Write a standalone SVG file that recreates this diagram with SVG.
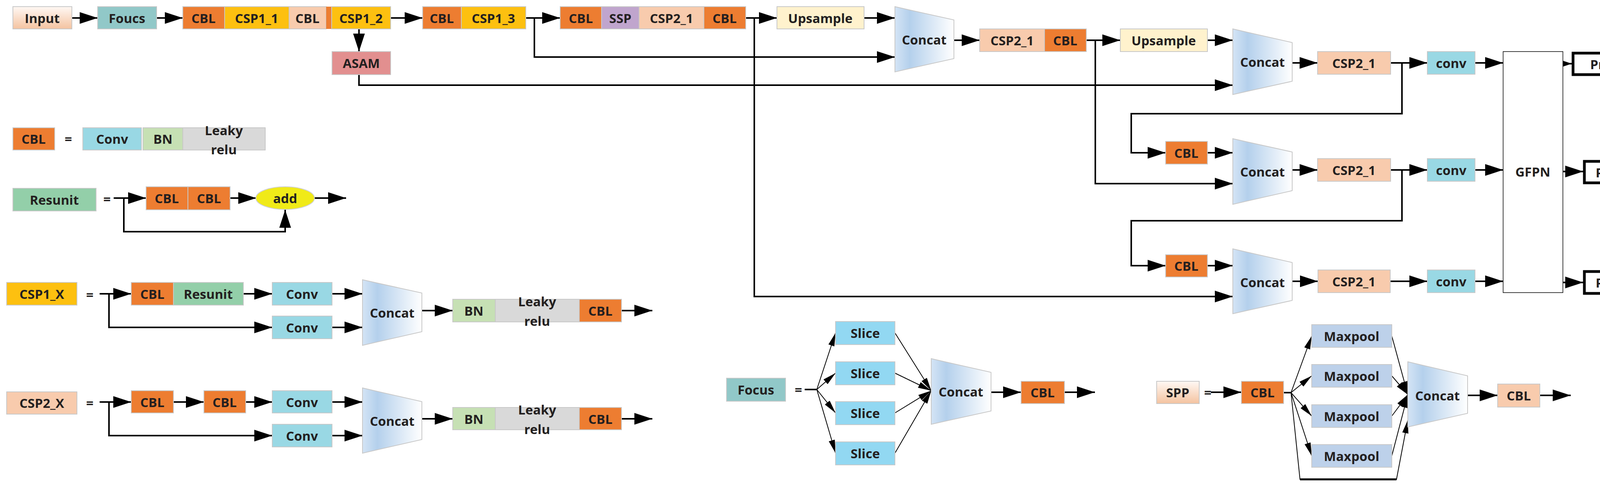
<svg xmlns="http://www.w3.org/2000/svg" width="4270" height="1244" viewBox="0 0 4270 1244">
<defs>
<marker id="ah" markerUnits="userSpaceOnUse" markerWidth="46" markerHeight="30" refX="46" refY="15" orient="auto"><path d="M0,0 L46,15 L0,30 z" fill="#000"/></marker>
<marker id="as" markerUnits="userSpaceOnUse" markerWidth="34" markerHeight="16" refX="34" refY="8" orient="auto"><path d="M0,0 L34,8 L0,16 z" fill="#000"/></marker>
<linearGradient id="cg" x1="0" y1="0" x2="1" y2="0"><stop offset="0" stop-color="#d4e4f5"/><stop offset="0.25" stop-color="#b4d0ec"/><stop offset="1" stop-color="#ffffff"/></linearGradient>
<linearGradient id="pg" x1="0" y1="0" x2="0" y2="1"><stop offset="0" stop-color="#fff8f4"/><stop offset="1" stop-color="#f4c3a0"/></linearGradient>
<style>
.b{stroke:#c8c8c8;stroke-width:2}
.t{font-family:"Open Sans","Liberation Sans",sans-serif;font-weight:bold;font-size:33px;fill:#231f20;text-anchor:middle;dominant-baseline:central}
.ln{fill:none;stroke:#000;stroke-width:4}
.th{fill:none;stroke:#000;stroke-width:2}
.or{fill:#ed7d31}.ye{fill:#fdc010}.pe{fill:#f8cbad}.te{fill:#91c8c8}.cy{fill:#99d8e4}.bn{fill:#c6e0b4}.gr{fill:#d9d9d9}.rs{fill:#93cfa9}.up{fill:#fff2cd}.sl{fill:#92d8f2}.mp{fill:#bdd1ea}
.cc{fill:url(#cg);stroke:#c8c8c8;stroke-width:2}
</style>
</defs>

<g id="connectors">
<path class="ln" marker-end="url(#ah)" d="M184,46 H250"/>
<path class="ln" marker-end="url(#ah)" d="M401,46 H468"/>
<path class="ln" marker-end="url(#ah)" d="M1000,46 H1082"/>
<path class="ln" marker-end="url(#ah)" d="M919,74 V132"/>
<path class="ln" marker-end="url(#ah)" d="M1346,46 H1434"/>
<path class="ln" marker-end="url(#ah)" d="M1368,46 V146 H2291"/>
<path class="ln" marker-end="url(#ah)" d="M1909,46 H1989"/>
<path class="ln" marker-end="url(#ah)" d="M1931,46 V759 H3156"/>
<path class="ln" marker-end="url(#ah)" d="M2212,46 H2291"/>
<path class="ln" marker-end="url(#ah)" d="M2442,103 H2508"/>
<path class="ln" marker-end="url(#ah)" d="M2781,103 H2868"/>
<path class="ln" marker-end="url(#ah)" d="M3091,103 H3156"/>
<path class="ln" marker-end="url(#ah)" d="M2804,103 V470 H3156"/>
<path class="ln" marker-end="url(#ah)" d="M919,191 V218 H3156"/>
<path class="ln" marker-end="url(#ah)" d="M3308,161 H3373"/>
<path class="ln" marker-end="url(#ah)" d="M3560,161 H3654"/>
<path class="ln" marker-end="url(#ah)" d="M3776,161 H3848"/>
<path class="ln" marker-end="url(#ah)" d="M3589,161 V291 H2896 V391 H2984"/>
<path class="ln" marker-end="url(#ah)" d="M3091,391 H3156"/>
<path class="ln" marker-end="url(#ah)" d="M3308,435 H3373"/>
<path class="ln" marker-end="url(#ah)" d="M3560,435 H3654"/>
<path class="ln" marker-end="url(#ah)" d="M3776,435 H3848"/>
<path class="ln" marker-end="url(#ah)" d="M3589,435 V565 H2896 V680 H2984"/>
<path class="ln" marker-end="url(#ah)" d="M3091,680 H3156"/>
<path class="ln" marker-end="url(#ah)" d="M3308,720 H3374"/>
<path class="ln" marker-end="url(#ah)" d="M3559,720 H3654"/>
<path class="ln" marker-end="url(#ah)" d="M3776,720 H3848"/>
<path class="ln" marker-end="url(#ah)" d="M4001,163 H4024"/>
<path class="ln" marker-end="url(#ah)" d="M4001,439 H4053"/>
<path class="ln" marker-end="url(#ah)" d="M4001,723 H4053"/>
<!-- Resunit -->
<path class="ln" marker-end="url(#ah)" d="M291,507 H374"/>
<path class="ln" marker-end="url(#ah)" d="M589,507 H656"/>
<path class="ln" marker-end="url(#ah)" d="M805,507 H886"/>
<path class="ln" marker-end="url(#ah)" d="M317,507 V593 H730 V537"/>
<!-- CSP1_X -->
<path class="ln" marker-end="url(#ah)" d="M255,752 H336"/>
<path class="ln" marker-end="url(#ah)" d="M623,752 H697"/>
<path class="ln" marker-end="url(#ah)" d="M850,752 H928"/>
<path class="ln" marker-end="url(#ah)" d="M279,752 V838 H697"/>
<path class="ln" marker-end="url(#ah)" d="M850,838 H928"/>
<path class="ln" marker-end="url(#ah)" d="M1080,795 H1159"/>
<path class="ln" marker-end="url(#ah)" d="M1591,795 H1670"/>
<!-- CSP2_X -->
<path class="ln" marker-end="url(#ah)" d="M255,1029 H336"/>
<path class="ln" marker-end="url(#ah)" d="M444,1029 H522"/>
<path class="ln" marker-end="url(#ah)" d="M629,1029 H697"/>
<path class="ln" marker-end="url(#ah)" d="M850,1029 H928"/>
<path class="ln" marker-end="url(#ah)" d="M279,1029 V1115 H697"/>
<path class="ln" marker-end="url(#ah)" d="M850,1115 H928"/>
<path class="ln" marker-end="url(#ah)" d="M1080,1072 H1159"/>
<path class="ln" marker-end="url(#ah)" d="M1591,1072 H1670"/>
<!-- Focus -->
<path class="ln" d="M2060,997 H2091"/>
<path class="th" marker-end="url(#as)" d="M2091,997 L2139,852"/>
<path class="th" marker-end="url(#as)" d="M2091,997 L2139,955"/>
<path class="th" marker-end="url(#as)" d="M2091,997 L2139,1057"/>
<path class="th" marker-end="url(#as)" d="M2091,997 L2139,1160"/>
<path class="th" marker-end="url(#as)" d="M2291,852 L2384,1000"/>
<path class="th" marker-end="url(#as)" d="M2291,955 L2384,1000"/>
<path class="th" marker-end="url(#as)" d="M2291,1057 L2384,1000"/>
<path class="th" marker-end="url(#as)" d="M2291,1160 L2384,1000"/>
<path class="ln" marker-end="url(#ah)" d="M2537,1004 H2614"/>
<path class="ln" marker-end="url(#ah)" d="M2725,1004 H2803"/>
<!-- SPP -->
<path class="ln" marker-end="url(#ah)" d="M3100,1004 H3178"/>
<path class="ln" d="M3286,1005 H3305"/>
<path class="th" marker-end="url(#as)" d="M3305,1005 L3358,860"/>
<path class="th" marker-end="url(#as)" d="M3305,1005 L3358,962"/>
<path class="th" marker-end="url(#as)" d="M3305,1005 L3358,1065"/>
<path class="th" marker-end="url(#as)" d="M3305,1005 L3358,1167"/>
<path class="th" marker-end="url(#as)" d="M3563,860 L3604,1010"/>
<path class="th" marker-end="url(#as)" d="M3563,962 L3604,1010"/>
<path class="th" marker-end="url(#as)" d="M3563,1065 L3604,1010"/>
<path class="th" marker-end="url(#as)" d="M3563,1167 L3604,1010"/>
<path class="th" marker-end="url(#as)" d="M3305,1005 L3328,1227 H3575 L3604,1075"/>
<path d="M3328,1227 H3575" stroke="#000" stroke-width="5"/>
<path class="ln" marker-end="url(#ah)" d="M3757,1012 H3834"/>
<path class="ln" marker-end="url(#ah)" d="M3942,1012 H4021"/>
</g>

<g id="input"><rect class="b" x="33" y="17" width="151" height="57" fill="url(#pg)"/><text class="t" x="108" y="46">Input</text></g>
<g id="foucs"><rect class="b te" x="250" y="17" width="151" height="57"/><text class="t" x="325" y="46">Foucs</text></g>
<g id="backbone1">
<rect class="b or" x="468" y="17" width="107" height="57"/><text class="t" x="521" y="46">CBL</text>
<rect class="b ye" x="575" y="17" width="165" height="57"/><text class="t" x="657" y="46">CSP1_1</text>
<rect class="b pe" x="740" y="17" width="95" height="57"/><text class="t" x="787" y="46">CBL</text>
<rect class="or" x="835" y="17" width="14" height="57"/>
<rect class="b ye" x="849" y="17" width="151" height="57"/><text class="t" x="924" y="46">CSP1_2</text>
</g>
<g id="asam"><rect class="b" x="850" y="132" width="150" height="59" fill="#e28f8f"/><text class="t" x="925" y="161">ASAM</text></g>
<g id="backbone2">
<rect class="b or" x="1082" y="17" width="99" height="57"/><text class="t" x="1131" y="46">CBL</text>
<rect class="b ye" x="1181" y="17" width="165" height="57"/><text class="t" x="1263" y="46">CSP1_3</text>
</g>
<g id="backbone3">
<rect class="b or" x="1434" y="17" width="106" height="57"/><text class="t" x="1487" y="46">CBL</text>
<rect class="b" x="1540" y="17" width="96" height="57" fill="#c0a5cd"/><text class="t" x="1588" y="46">SSP</text>
<rect class="b pe" x="1636" y="17" width="166" height="57"/><text class="t" x="1719" y="46">CSP2_1</text>
<rect class="b or" x="1802" y="17" width="107" height="57"/><text class="t" x="1855" y="46">CBL</text>
</g>
<g id="upsample1"><rect class="b up" x="1989" y="17" width="223" height="57"/><text class="t" x="2100" y="46">Upsample</text></g>
<g id="concat1"><path class="cc" d="M2291,17 L2442,51 V150 L2291,184 z"/><text class="t" x="2366" y="101">Concat</text></g>
<g id="neck1">
<rect class="b pe" x="2508" y="74" width="166" height="58"/><text class="t" x="2591" y="103">CSP2_1</text>
<rect class="b or" x="2674" y="74" width="107" height="58"/><text class="t" x="2727" y="103">CBL</text>
</g>
<g id="upsample2"><rect class="b up" x="2868" y="74" width="223" height="58"/><text class="t" x="2979" y="103">Upsample</text></g>
<g id="concat2"><path class="cc" d="M3156,74 L3308,109 V208 L3156,242 z"/><text class="t" x="3232" y="158">Concat</text></g>
<g id="csp2_1a"><rect class="b pe" x="3373" y="132" width="187" height="58"/><text class="t" x="3466" y="161">CSP2_1</text></g>
<g id="conv1"><rect class="b cy" x="3654" y="132" width="122" height="58"/><text class="t" x="3715" y="161">conv</text></g>
<g id="cbl_m2"><rect class="b or" x="2984" y="362" width="107" height="58"/><text class="t" x="3037" y="391">CBL</text></g>
<g id="concat3"><path class="cc" d="M3156,355 L3308,389 V488 L3156,523 z"/><text class="t" x="3232" y="439">Concat</text></g>
<g id="csp2_1b"><rect class="b pe" x="3373" y="406" width="187" height="58"/><text class="t" x="3466" y="435">CSP2_1</text></g>
<g id="conv2"><rect class="b cy" x="3654" y="406" width="122" height="58"/><text class="t" x="3715" y="435">conv</text></g>
<g id="cbl_m3"><rect class="b or" x="2984" y="652" width="107" height="57"/><text class="t" x="3037" y="680">CBL</text></g>
<g id="concat4"><path class="cc" d="M3156,637 L3308,672 V769 L3156,803 z"/><text class="t" x="3232" y="722">Concat</text></g>
<g id="csp2_1c"><rect class="b pe" x="3374" y="691" width="185" height="58"/><text class="t" x="3466" y="720">CSP2_1</text></g>
<g id="conv3"><rect class="b cy" x="3654" y="691" width="122" height="58"/><text class="t" x="3715" y="720">conv</text></g>
<g id="gfpn"><rect x="3848" y="132" width="153" height="617" fill="#fff" stroke="#000" stroke-width="1.5"/><text class="t" x="3924" y="439">GFPN</text></g>
<g id="predict1"><rect x="4027" y="136" width="224" height="55" fill="#fff" stroke="#000" stroke-width="7"/><text class="t" x="4139" y="164">Predict1</text></g>
<g id="predict2"><rect x="4056" y="413" width="195" height="55" fill="#fff" stroke="#000" stroke-width="7"/><text class="t" x="4153" y="441">Predict2</text></g>
<g id="predict3"><rect x="4056" y="695" width="195" height="56" fill="#fff" stroke="#000" stroke-width="7"/><text class="t" x="4153" y="723">Predict3</text></g>

<g id="legend-cbl">
<rect class="b or" x="33" y="327" width="107" height="57"/><text class="t" x="86" y="355">CBL</text>
<text class="t" x="175" y="355">=</text>
<rect class="b cy" x="212" y="327" width="150" height="57"/><text class="t" x="287" y="355">Conv</text>
<rect class="b bn" x="366" y="327" width="102" height="57"/><text class="t" x="417" y="355">BN</text>
<rect class="b gr" x="468" y="327" width="211" height="57"/><text class="t" x="573" y="333">Leaky</text><text class="t" x="573" y="382">relu</text>
</g>
<g id="legend-resunit">
<rect class="b rs" x="33" y="482" width="213" height="58"/><text class="t" x="139" y="511">Resunit</text>
<text class="t" x="274" y="509">=</text>
<rect class="b or" x="374" y="478" width="107" height="59"/><text class="t" x="427" y="507">CBL</text>
<rect class="b or" x="481" y="478" width="108" height="59"/><text class="t" x="535" y="507">CBL</text>
<ellipse cx="730" cy="507" rx="75" ry="29" fill="#f0ea18" stroke="#d0d0d0" stroke-width="2"/><text class="t" x="730" y="507">add</text>
</g>
<g id="legend-csp1x">
<rect class="b ye" x="17" y="723" width="180" height="58"/><text class="t" x="107" y="752">CSP1_X</text>
<text class="t" x="230" y="754">=</text>
<rect class="b or" x="336" y="723" width="108" height="58"/><text class="t" x="390" y="752">CBL</text>
<rect class="b rs" x="444" y="723" width="179" height="58"/><text class="t" x="533" y="752">Resunit</text>
<rect class="b cy" x="697" y="723" width="153" height="58"/><text class="t" x="773" y="752">Conv</text>
<rect class="b cy" x="697" y="809" width="153" height="58"/><text class="t" x="773" y="838">Conv</text>
<path class="cc" d="M928,716 L1080,750 V849 L928,884 z"/><text class="t" x="1004" y="800">Concat</text>
<rect class="b bn" x="1159" y="766" width="109" height="58"/><text class="t" x="1213" y="795">BN</text>
<rect class="b gr" x="1268" y="766" width="215" height="58"/><text class="t" x="1375" y="771">Leaky</text><text class="t" x="1375" y="821">relu</text>
<rect class="b or" x="1483" y="766" width="108" height="58"/><text class="t" x="1537" y="795">CBL</text>
</g>
<g id="legend-csp2x">
<rect class="b pe" x="17" y="1003" width="180" height="57"/><text class="t" x="107" y="1031">CSP2_X</text>
<text class="t" x="230" y="1031">=</text>
<rect class="b or" x="336" y="1000" width="108" height="57"/><text class="t" x="390" y="1029">CBL</text>
<rect class="b or" x="522" y="1000" width="107" height="57"/><text class="t" x="575" y="1029">CBL</text>
<rect class="b cy" x="697" y="1000" width="153" height="57"/><text class="t" x="773" y="1029">Conv</text>
<rect class="b cy" x="697" y="1086" width="153" height="58"/><text class="t" x="773" y="1115">Conv</text>
<path class="cc" d="M928,993 L1080,1028 V1125 L928,1160 z"/><text class="t" x="1004" y="1077">Concat</text>
<rect class="b bn" x="1159" y="1043" width="109" height="57"/><text class="t" x="1213" y="1072">BN</text>
<rect class="b gr" x="1268" y="1043" width="215" height="57"/><text class="t" x="1375" y="1048">Leaky</text><text class="t" x="1375" y="1098">relu</text>
<rect class="b or" x="1483" y="1043" width="108" height="57"/><text class="t" x="1537" y="1072">CBL</text>
</g>
<g id="legend-focus">
<rect class="b te" x="1860" y="968" width="151" height="59"/><text class="t" x="1935" y="997">Focus</text>
<text class="t" x="2044" y="997">=</text>
<rect class="b sl" x="2139" y="823" width="152" height="59"/><text class="t" x="2215" y="852">Slice</text>
<rect class="b sl" x="2139" y="926" width="152" height="59"/><text class="t" x="2215" y="955">Slice</text>
<rect class="b sl" x="2139" y="1028" width="152" height="59"/><text class="t" x="2215" y="1057">Slice</text>
<rect class="b sl" x="2139" y="1131" width="152" height="59"/><text class="t" x="2215" y="1160">Slice</text>
<path class="cc" d="M2384,918 L2537,953 V1052 L2384,1086 z"/><text class="t" x="2460" y="1002">Concat</text>
<rect class="b or" x="2614" y="976" width="111" height="57"/><text class="t" x="2669" y="1004">CBL</text>
</g>
<g id="legend-spp">
<rect class="b" x="2961" y="976" width="109" height="57" fill="url(#pg)"/><text class="t" x="3015" y="1004">SPP</text>
<text class="t" x="3092" y="1004">=</text>
<rect class="b or" x="3178" y="976" width="108" height="57"/><text class="t" x="3232" y="1004">CBL</text>
<rect class="b mp" x="3358" y="831" width="205" height="58"/><text class="t" x="3460" y="860">Maxpool</text>
<rect class="b mp" x="3358" y="933" width="205" height="58"/><text class="t" x="3460" y="962">Maxpool</text>
<rect class="b mp" x="3358" y="1036" width="205" height="58"/><text class="t" x="3460" y="1065">Maxpool</text>
<rect class="b mp" x="3358" y="1138" width="205" height="58"/><text class="t" x="3460" y="1167">Maxpool</text>
<path class="cc" d="M3604,926 L3757,962 V1058 L3604,1093 z"/><text class="t" x="3680" y="1012">Concat</text>
<rect class="b pe" x="3834" y="983" width="108" height="59"/><text class="t" x="3888" y="1012">CBL</text>
</g>
</svg>
